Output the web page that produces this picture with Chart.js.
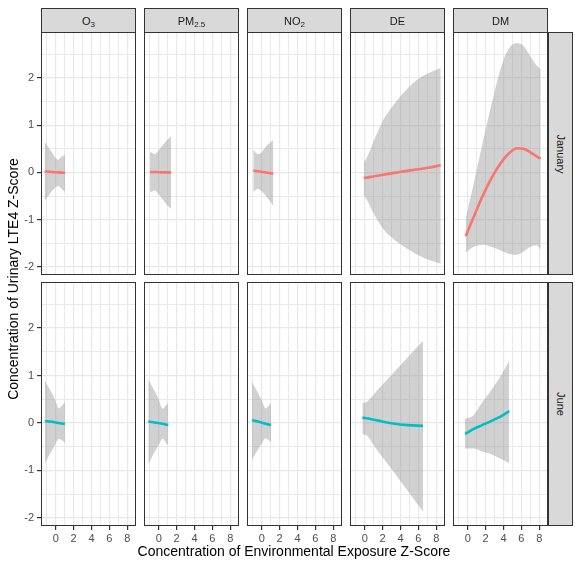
<!DOCTYPE html>
<html>
<head>
<meta charset="utf-8">
<script src="https://cdn.jsdelivr.net/npm/chart.js@4"></script>
<style>
  html, body { margin: 0; padding: 0; background: #ffffff; }
  body { width: 575px; height: 567px; position: relative; overflow: hidden;
         font-family: "Liberation Sans", Arial, Helvetica, sans-serif; }
  canvas { position: absolute; }
  .strip { position: absolute; box-sizing: border-box; background: #d9d9d9;
           border: 1px solid #333333; color: #1a1a1a; font-size: 11px;
           display: flex; align-items: center; justify-content: center; }
  .strip sub { font-size: 8px; vertical-align: -2px; line-height: 0; }
  .rot { transform: rotate(90deg); white-space: nowrap; }
  .title { position: absolute; color: #000; font-size: 14px; white-space: nowrap; text-align: center; }
</style>
</head>
<body>
<script>
// ---------------- DATA ----------------
const columns = ['O3', 'PM2.5', 'NO2', 'DE', 'DM'];
const columnLabels = ['O<sub>3</sub>', 'PM<sub>2.5</sub>', 'NO<sub>2</sub>', 'DE', 'DM'];
const months = ['January', 'June'];

const xTicks = [-1, 0, 1, 2, 3, 4, 5, 6, 7, 8];
const xMajor = [0, 2, 4, 6, 8];
const yTicks = [-2, -1.5, -1, -0.5, 0, 0.5, 1, 1.5, 2, 2.5];
const yMajor = [-2, -1, 0, 1, 2];

// January
const janO3X   = [-1.24, -0.82, -0.45, -0.08, 0.29, 0.67, 1.06];
const janO3Fit = [0.02, 0.015, 0.01, 0.005, 0.0, -0.005, -0.01];
const janO3Low = [-0.61, -0.50, -0.40, -0.33, -0.29, -0.35, -0.41];
const janO3Up  = [0.65, 0.54, 0.43, 0.32, 0.27, 0.33, 0.38];

const janPMX   = [-0.97, -0.41, -0.04, 0.51, 1.07, 1.39];
const janPMFit = [0.01, 0.01, 0.005, 0.0, 0.0, -0.005];
const janPMLow = [-0.42, -0.38, -0.45, -0.59, -0.72, -0.77];
const janPMUp  = [0.43, 0.39, 0.46, 0.59, 0.71, 0.76];

const janNOX   = [-0.94, -0.45, -0.08, 0.48, 0.93, 1.30];
const janNOFit = [0.04, 0.025, 0.015, 0.0, -0.015, -0.03];
const janNOLow = [-0.42, -0.35, -0.38, -0.50, -0.61, -0.71];
const janNOUp  = [0.48, 0.39, 0.41, 0.55, 0.63, 0.68];

const janDEX   = [-0.11, 0.19, 1.12, 2.05, 2.98, 3.91, 5.77, 7.11, 8.49];
const janDEFit = [-0.12, -0.11, -0.08, -0.05, -0.02, 0.01, 0.06, 0.10, 0.15];
const janDELow = [-0.49, -0.56, -0.91, -1.19, -1.37, -1.51, -1.73, -1.85, -1.93];
const janDEUp  = [0.22, 0.29, 0.71, 1.10, 1.37, 1.59, 1.95, 2.10, 2.21];

const janDMX   = [-0.22, 0.63, 1.74, 2.86, 3.98, 4.72, 5.47, 6.22, 6.96, 7.70, 8.15];
const janDMFit = [-1.35, -0.96, -0.47, -0.05, 0.27, 0.42, 0.51, 0.50, 0.43, 0.34, 0.29];
const janDMLow = [-1.70, -1.58, -1.53, -1.59, -1.68, -1.73, -1.74, -1.68, -1.58, -1.54, -1.64];
const janDMUp  = [-0.98, -0.27, 0.68, 1.59, 2.37, 2.65, 2.73, 2.68, 2.47, 2.26, 2.18];

// June
const junO3X   = [-1.20, -0.64, -0.08, 0.35, 0.67, 1.04];
const junO3Fit = [0.04, 0.03, 0.015, 0.0, -0.01, -0.02];
const junO3Low = [-0.85, -0.65, -0.47, -0.33, -0.36, -0.42];
const junO3Up  = [0.88, 0.70, 0.50, 0.31, 0.36, 0.45];

const junPMX   = [-1.16, -0.60, -0.05, 0.45, 0.75, 1.07];
const junPMFit = [0.03, 0.015, 0.0, -0.015, -0.03, -0.04];
const junPMLow = [-0.87, -0.66, -0.48, -0.33, -0.40, -0.48];
const junPMUp  = [0.92, 0.72, 0.52, 0.30, 0.36, 0.42];

const junNOX   = [-1.08, -0.55, -0.05, 0.45, 0.75, 1.04];
const junNOFit = [0.06, 0.035, 0.01, -0.015, -0.03, -0.04];
const junNOLow = [-0.78, -0.60, -0.45, -0.32, -0.36, -0.40];
const junNOUp  = [0.87, 0.68, 0.50, 0.31, 0.36, 0.42];

const junDEX   = [-0.26, 0.19, 1.50, 3.17, 4.80, 6.52];
const junDEFit = [0.11, 0.10, 0.05, -0.01, -0.045, -0.06];
const junDELow = [-0.23, -0.26, -0.60, -1.01, -1.43, -1.87];
const junDEUp  = [0.42, 0.44, 0.71, 1.05, 1.38, 1.73];

const junDMX   = [-0.30, 0.63, 1.56, 2.50, 3.61, 4.65];
const junDMFit = [-0.23, -0.13, -0.05, 0.03, 0.13, 0.25];
const junDMLow = [-0.54, -0.54, -0.60, -0.65, -0.75, -0.85];
const junDMUp  = [0.09, 0.16, 0.42, 0.66, 0.97, 1.31];

const seriesColors = ['#F8766D', '#00BFC4'];

const panelData = [
  [[janO3X, janO3Fit, janO3Low, janO3Up], [janPMX, janPMFit, janPMLow, janPMUp],
   [janNOX, janNOFit, janNOLow, janNOUp], [janDEX, janDEFit, janDELow, janDEUp],
   [janDMX, janDMFit, janDMLow, janDMUp]],
  [[junO3X, junO3Fit, junO3Low, junO3Up], [junPMX, junPMFit, junPMLow, junPMUp],
   [junNOX, junNOFit, junNOLow, junNOUp], [junDEX, junDEFit, junDELow, junDEUp],
   [junDMX, junDMFit, junDMLow, junDMUp]]
];

// ---------------- LAYOUT ----------------
const X_MIN = -1.64, X_MAX = 8.97, Y_MIN = -2.17, Y_MAX = 2.97;
const colLeft = [41, 144, 247, 350, 453];
const panelW = 95;
const rowTop = [32, 282];
const rowH = [243, 244];
const Y_AXIS_W = 41, X_AXIS_H = 20;

const borderPlugin = {
  id: 'panelBorder',
  afterDraw(chart) {
    const a = chart.chartArea, ctx = chart.ctx;
    ctx.save();
    ctx.strokeStyle = '#333333';
    ctx.lineWidth = 1;
    ctx.strokeRect(a.left + 0.5, a.top + 0.5, a.right - a.left - 1, a.bottom - a.top - 1);
    ctx.restore();
  }
};

function pts(xs, ys) { return xs.map((x, i) => ({ x: x, y: ys[i] })); }

function zeroPad(s) { s.paddingTop = 0; s.paddingBottom = 0; s.paddingLeft = 0; s.paddingRight = 0; }

function makePanel(r, c) {
  const showY = c === 0, showX = r === 1;
  const cv = document.createElement('canvas');
  const left = showY ? 0 : colLeft[c];
  const w = panelW + (showY ? Y_AXIS_W : 0);
  const h = rowH[r] + (showX ? X_AXIS_H : 0);
  cv.width = w; cv.height = h;
  cv.style.left = left + 'px'; cv.style.top = rowTop[r] + 'px';
  cv.style.width = w + 'px'; cv.style.height = h + 'px';
  document.body.appendChild(cv);
  const [xs, fit, low, up] = panelData[r][c];
  const col = seriesColors[r];
  const tickFont = { family: '"Liberation Sans", Arial, sans-serif', size: 11 };
  new Chart(cv, {
    type: 'line',
    data: {
      datasets: [
        { data: pts(xs, low), borderWidth: 0, pointRadius: 0, fill: false, order: 2,
          borderColor: 'rgba(0,0,0,0)', cubicInterpolationMode: 'monotone' },
        { data: pts(xs, up), borderWidth: 0, pointRadius: 0, fill: '-1', order: 1,
          borderColor: 'rgba(0,0,0,0)', backgroundColor: 'rgba(153,153,153,0.45)',
          cubicInterpolationMode: 'monotone' },
        { data: pts(xs, fit), borderWidth: 2.6, pointRadius: 0, fill: false, order: 0,
          borderColor: col, cubicInterpolationMode: 'monotone' }
      ]
    },
    options: {
      responsive: false, animation: false, devicePixelRatio: 1,
      layout: { padding: 0 },
      plugins: { legend: { display: false }, tooltip: { enabled: false } },
      events: [],
      scales: {
        x: {
          type: 'linear', min: X_MIN, max: X_MAX,
          afterBuildTicks: s => { s.ticks = xTicks.map(v => ({ value: v })); },
          afterFit: s => { s.height = showX ? X_AXIS_H : 0; zeroPad(s); },
          border: { display: false },
          grid: {
            color: '#e8e8e8',
            lineWidth: ctx => xMajor.includes(ctx.tick.value) ? 1.2 : 0.9,
            drawTicks: showX, tickLength: 4,
            tickColor: ctx => xMajor.includes(ctx.tick.value) ? '#333333' : 'rgba(0,0,0,0)'
          },
          ticks: {
            display: showX, autoSkip: false, maxRotation: 0, padding: 2,
            color: '#4d4d4d', font: tickFont,
            callback: v => xMajor.includes(v) ? String(v) : ''
          }
        },
        y: {
          type: 'linear', min: Y_MIN, max: Y_MAX,
          afterBuildTicks: s => { s.ticks = yTicks.map(v => ({ value: v })); },
          afterFit: s => { s.width = showY ? Y_AXIS_W : 0; zeroPad(s); },
          border: { display: false },
          grid: {
            color: '#e8e8e8',
            lineWidth: ctx => yMajor.includes(ctx.tick.value) ? 1.2 : 0.9,
            drawTicks: showY, tickLength: 4,
            tickColor: ctx => yMajor.includes(ctx.tick.value) ? '#333333' : 'rgba(0,0,0,0)'
          },
          ticks: {
            display: showY, autoSkip: false, padding: 3,
            color: '#4d4d4d', font: tickFont,
            callback: v => yMajor.includes(v) ? String(v) : ''
          }
        }
      }
    },
    plugins: [borderPlugin]
  });
}

for (let r = 0; r < 2; r++) for (let c = 0; c < 5; c++) makePanel(r, c);

// column strips
columnLabels.forEach((lab, c) => {
  const d = document.createElement('div');
  d.className = 'strip';
  d.style.left = colLeft[c] + 'px'; d.style.top = '8px';
  d.style.width = panelW + 'px'; d.style.height = '25px';
  d.innerHTML = '<span>' + lab + '</span>';
  document.body.appendChild(d);
});
// row strips
months.forEach((m, r) => {
  const d = document.createElement('div');
  d.className = 'strip';
  d.style.left = '548px'; d.style.top = rowTop[r] + 'px';
  d.style.width = '25px'; d.style.height = rowH[r] + 'px';
  d.innerHTML = '<span class="rot">' + m + '</span>';
  document.body.appendChild(d);
});

// axis titles
const xt = document.createElement('div');
xt.className = 'title';
xt.style.left = '94px'; xt.style.width = '400px'; xt.style.top = '542px'; xt.style.lineHeight = '18px';
xt.textContent = 'Concentration of Environmental Exposure Z-Score';
document.body.appendChild(xt);

const yt = document.createElement('div');
yt.className = 'title';
yt.style.left = (13 - 160) + 'px'; yt.style.width = '320px';
yt.style.top = (279 - 9) + 'px'; yt.style.lineHeight = '18px'; yt.style.height = '18px';
yt.style.transform = 'rotate(-90deg)';
yt.textContent = 'Concentration of Urinary LTE4 Z-Score';
document.body.appendChild(yt);
</script>
</body>
</html>
